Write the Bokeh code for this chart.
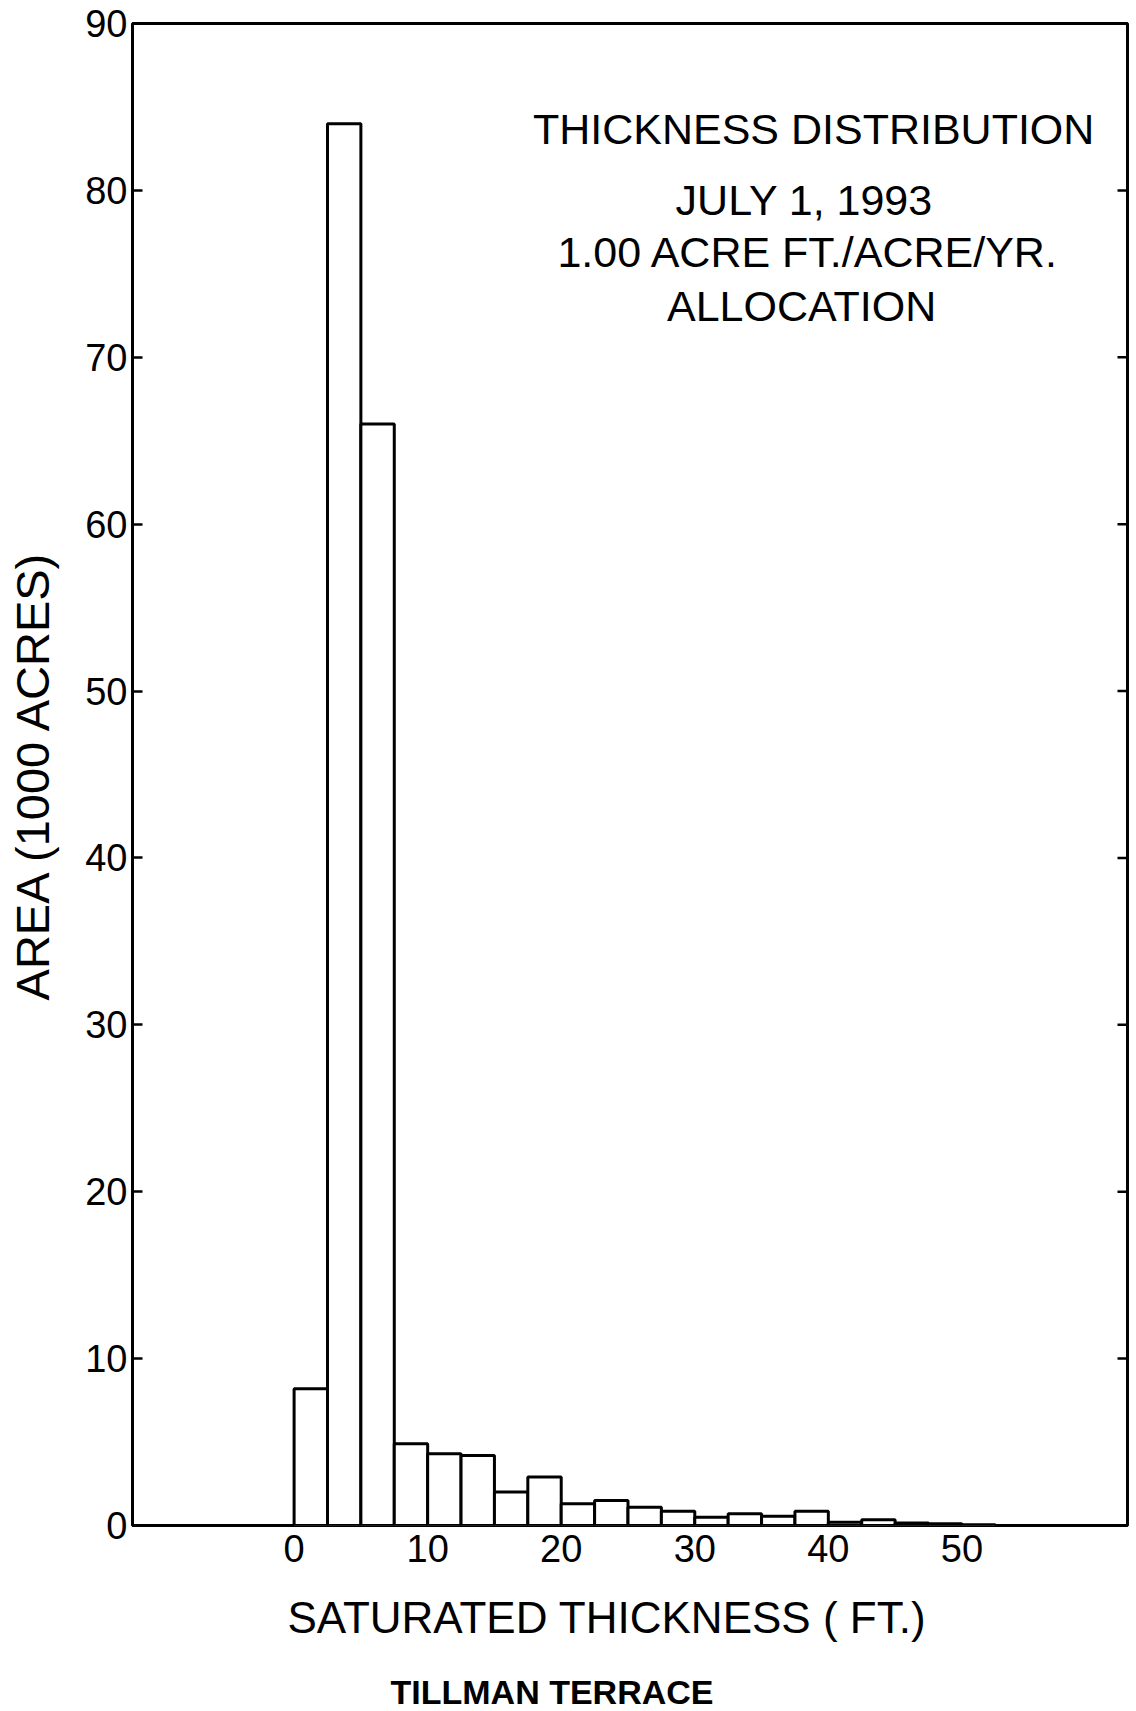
import numpy as np
from bokeh.plotting import figure
from bokeh.models import FixedTicker, Label, Range1d, ColumnDataSource, Title
from bokeh.embed import file_html
from bokeh.resources import INLINE

# Histogram bins (saturated thickness, ft) and area (1000 acres)
bin_start = [0, 2.5, 5, 7.5, 10, 12.5, 15, 17.5, 20, 22.5, 25, 27.5, 30, 32.5,
             35, 37.5, 40, 42.5, 45, 47.5, 50]
bin_end = [2.5, 5, 7.5, 10, 12.5, 15, 17.5, 20, 22.5, 25, 27.5, 30, 32.5, 35,
           37.5, 40, 42.5, 45, 47.5, 50, 52.5]
area = [8.2, 84.0, 66.0, 4.9, 4.3, 4.2, 2.0, 2.9, 1.3, 1.5, 1.1, 0.85, 0.5, 0.7,
        0.55, 0.85, 0.2, 0.35, 0.15, 0.1, 0.05]

x_ticks = [0, 10, 20, 30, 40, 50]
y_ticks = [0, 10, 20, 30, 40, 50, 60, 70, 80, 90]

title_lines = ["THICKNESS DISTRIBUTION", "JULY 1, 1993",
               "1.00 ACRE FT./ACRE/YR.", "ALLOCATION"]
x_label = "SATURATED THICKNESS ( FT.)"
y_label = "AREA (1000 ACRES)"
caption = "TILLMAN TERRACE"

FONT = "Liberation Sans"

src = ColumnDataSource(dict(left=bin_start, right=bin_end, top=area))

x_range = Range1d(-12.1, 62.4)
y_range = Range1d(0, 90)

p = figure(frame_width=995, frame_height=1502,
           x_range=x_range, y_range=y_range,
           output_backend="svg", toolbar_location=None,
           min_border_left=132, min_border_top=23, min_border_right=9,
           min_border_bottom=180,
           background_fill_color="white", border_fill_color="white")

p.grid.visible = False
p.outline_line_color = "black"
p.outline_line_width = 3

p.quad(left="left", right="right", top="top", bottom=0, source=src,
       fill_color="white", line_color="black", line_width=3)

# inward ticks on the right frame edge, at the y tick values
p.ray(x=[x_range.end] * len(y_ticks), y=y_ticks, length=10,
      length_units="screen", angle=np.pi, line_color="black", line_width=2.5)

# bottom axis
xa = p.xaxis[0]
xa.ticker = FixedTicker(ticks=x_ticks)
xa.major_tick_in = 0
xa.major_tick_out = 0
xa.minor_tick_in = 0
xa.minor_tick_out = 0
xa.axis_line_color = None
xa.major_label_text_font = FONT
xa.major_label_text_font_size = "38px"
xa.major_label_text_color = "black"
xa.major_label_standoff = 9

# left axis
ya = p.yaxis[0]
ya.ticker = FixedTicker(ticks=y_ticks)
ya.major_tick_in = 10
ya.major_tick_out = 0
ya.minor_tick_in = 0
ya.minor_tick_out = 0
ya.major_tick_line_width = 2.5
ya.major_tick_line_color = "black"
ya.axis_line_color = None
ya.major_label_text_font = FONT
ya.major_label_text_font_size = "38px"
ya.major_label_text_color = "black"
ya.major_label_standoff = 5
ya.axis_label = y_label
ya.axis_label_text_font = FONT
ya.axis_label_text_font_size = "47px"
ya.axis_label_text_font_style = "normal"
ya.axis_label_text_color = "black"
ya.axis_label_standoff = 23

# title block
title_pos = [(38.9, 83.7), (38.2, 79.4), (38.5, 76.3), (38.0, 73.1)]
for txt, (tx, ty) in zip(title_lines, title_pos):
    p.add_layout(Label(x=tx, y=ty, text=txt, text_align="center",
                       text_baseline="middle", text_font=FONT,
                       text_font_size="43px", text_color="black"))

# x-axis label and caption below the plot
p.add_layout(Title(text=x_label, align="left", offset=155,
                   vertical_align="top", standoff=56,
                   text_font=FONT, text_font_size="44px",
                   text_font_style="normal", text_color="black"), "below")
p.add_layout(Title(text=caption, align="left", offset=258,
                   vertical_align="top", standoff=2,
                   text_font=FONT, text_font_size="34px",
                   text_font_style="bold", text_color="black"), "below")

open("out.html", "w").write(file_html(p, INLINE))
